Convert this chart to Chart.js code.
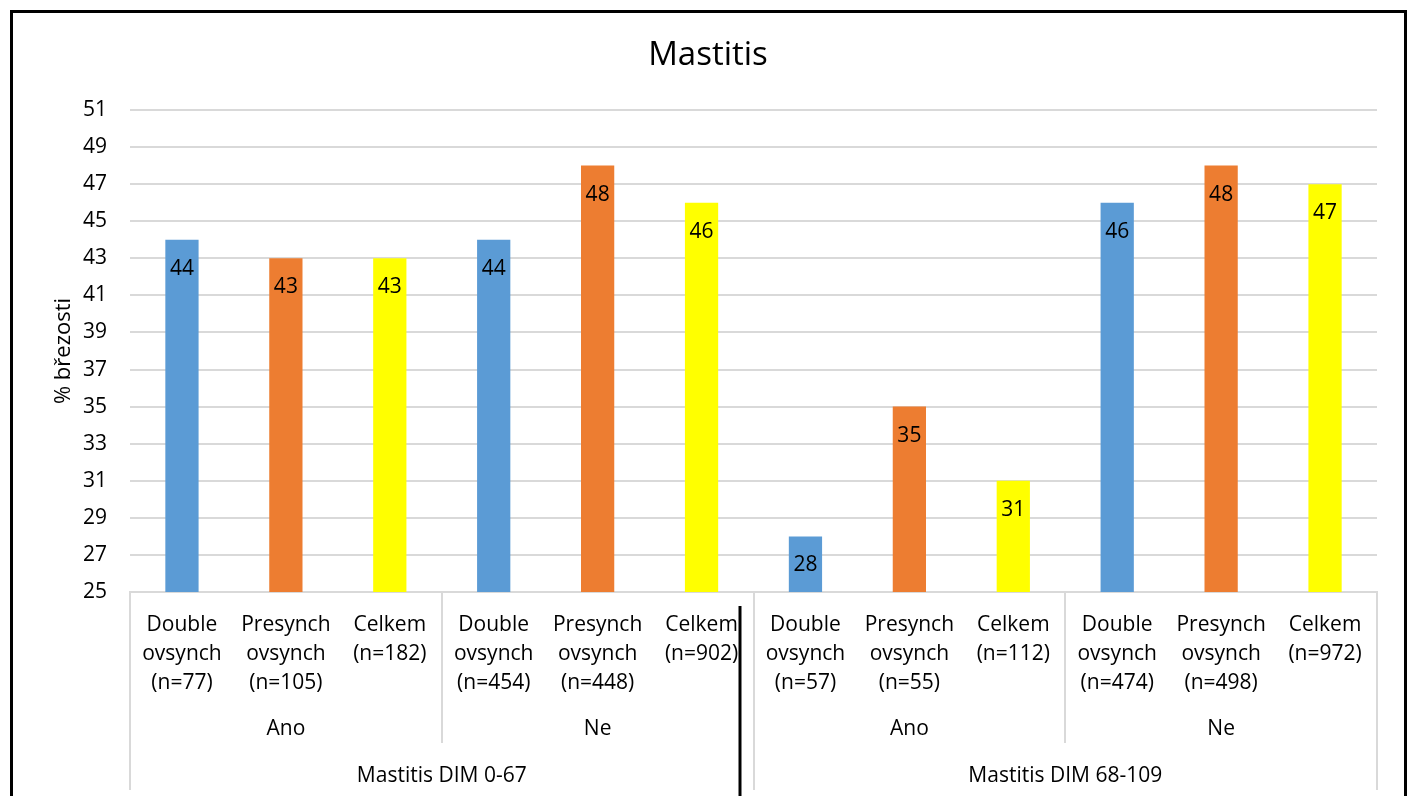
<!DOCTYPE html>
<html>
<head>
<meta charset="utf-8">
<title>Mastitis</title>
<script src="https://cdn.jsdelivr.net/npm/chart.js@4/dist/chart.umd.min.js"></script>
<style>
  html, body { margin: 0; padding: 0; background: #fff; }
  #wrap { width: 1408px; height: 796px; position: relative; }
</style>
</head>
<body>
<div id="wrap"><canvas id="c" width="1408" height="796"></canvas></div>
<script>
// Pregnancy rate (% březosti) by mastitis period, occurrence and synchronisation protocol
const chartTitle = 'Mastitis';
const yTitle = '% březosti';
const protocolLabels = [
  ['Double', 'ovsynch', '(n=77)'], ['Presynch', 'ovsynch', '(n=105)'], ['Celkem', '(n=182)'],
  ['Double', 'ovsynch', '(n=454)'], ['Presynch', 'ovsynch', '(n=448)'], ['Celkem', '(n=902)'],
  ['Double', 'ovsynch', '(n=57)'], ['Presynch', 'ovsynch', '(n=55)'], ['Celkem', '(n=112)'],
  ['Double', 'ovsynch', '(n=474)'], ['Presynch', 'ovsynch', '(n=498)'], ['Celkem', '(n=972)']
];
const mastitisLabels = ['Ano', 'Ne', 'Ano', 'Ne'];
const periodLabels = ['Mastitis DIM 0-67', 'Mastitis DIM 68-109'];
const pregnancyRate = [44, 43, 43, 44, 48, 46, 28, 35, 31, 46, 48, 47];
const yMin = 25, yMax = 51, yStep = 2;

const barColors = ['#5b9bd5', '#ed7d31', '#ffff00'];
const FONT = '"Open Sans", "DejaVu Sans", sans-serif';
const GRID = '#d9d9d9';

const decorations = {
  id: 'decorations',
  afterDatasetsDraw(chart) {
    const ctx = chart.ctx;
    const meta = chart.getDatasetMeta(0);
    ctx.save();
    // value labels inside the top of each bar
    ctx.font = '21px ' + FONT;
    ctx.fillStyle = '#000';
    ctx.textAlign = 'center';
    ctx.textBaseline = 'middle';
    meta.data.forEach((bar, i) => {
      ctx.fillText(String(pregnancyRate[i]), bar.x, bar.y + 29);
    });
    ctx.restore();
  },
  afterDraw(chart) {
    const ctx = chart.ctx;
    const x = chart.scales.x;
    const area = chart.chartArea;
    const n = protocolLabels.length;
    const edge = i => x.getPixelForValue(i - 0.5);
    ctx.save();

    // chart title
    ctx.font = '33px ' + FONT;
    ctx.fillStyle = '#000';
    ctx.textAlign = 'center';
    ctx.textBaseline = 'middle';
    ctx.fillText(chartTitle, 708, 56);

    // multi-level category separators
    ctx.strokeStyle = GRID;
    ctx.lineWidth = 2;
    for (let i = 0; i <= n; i++) {
      const px = Math.round(edge(i));
      let bottom = null;
      if (i % 6 === 0) bottom = 790;
      else if (i % 3 === 0) bottom = 743;
      if (bottom !== null) {
        ctx.beginPath();
        ctx.moveTo(px, area.bottom);
        ctx.lineTo(px, bottom);
        ctx.stroke();
      }
    }

    // second and third level labels
    ctx.font = '21px ' + FONT;
    ctx.fillStyle = '#000';
    mastitisLabels.forEach((t, g) => {
      const cx = (edge(g * 3) + edge(g * 3 + 3)) / 2;
      ctx.fillText(t, cx, 729);
    });
    periodLabels.forEach((t, g) => {
      const cx = (edge(g * 6) + edge(g * 6 + 6)) / 2;
      ctx.fillText(t, cx, 776);
    });

    // divider line
    ctx.strokeStyle = '#000';
    ctx.lineWidth = 3;
    ctx.beginPath();
    ctx.moveTo(740, 606);
    ctx.lineTo(740, 796);
    ctx.stroke();

    // outer frame
    ctx.lineWidth = 3;
    ctx.beginPath();
    ctx.moveTo(11.5, 796);
    ctx.lineTo(11.5, 11.5);
    ctx.lineTo(1405.5, 11.5);
    ctx.lineTo(1405.5, 796);
    ctx.stroke();
    ctx.restore();
  }
};

new Chart(document.getElementById('c'), {
  type: 'bar',
  data: {
    labels: protocolLabels,
    datasets: [{
      data: pregnancyRate,
      backgroundColor: pregnancyRate.map((_, i) => barColors[i % 3]),
      borderWidth: 0,
      categoryPercentage: 1,
      barPercentage: 0.32
    }]
  },
  options: {
    responsive: false,
    animation: false,
    devicePixelRatio: 1,
    layout: { padding: { top: 110, right: 31, bottom: 0, left: 0 } },
    plugins: {
      legend: { display: false },
      tooltip: { enabled: false },
      title: { display: false }
    },
    scales: {
      x: {
        grid: { display: false, drawTicks: false },
        border: { display: true, color: GRID, width: 2 },
        ticks: {
          autoSkip: false,
          maxRotation: 0,
          minRotation: 0,
          padding: 19,
          color: '#000',
          font: { family: FONT, size: 21, lineHeight: 1.38 }
        },
        afterFit(scale) { scale.height = 204; }
      },
      y: {
        min: yMin,
        max: yMax,
        grid: { color: GRID, lineWidth: 2, drawTicks: false },
        border: { display: false },
        ticks: {
          stepSize: yStep,
          padding: 23,
          color: '#000',
          font: { family: FONT, size: 21 }
        },
        title: {
          display: true,
          text: yTitle,
          color: '#000',
          font: { family: FONT, size: 22 },
          padding: { top: 51, bottom: 0 }
        },
        afterFit(scale) { scale.width = 130; }
      }
    }
  },
  plugins: [decorations]
});
</script>
</body>
</html>
